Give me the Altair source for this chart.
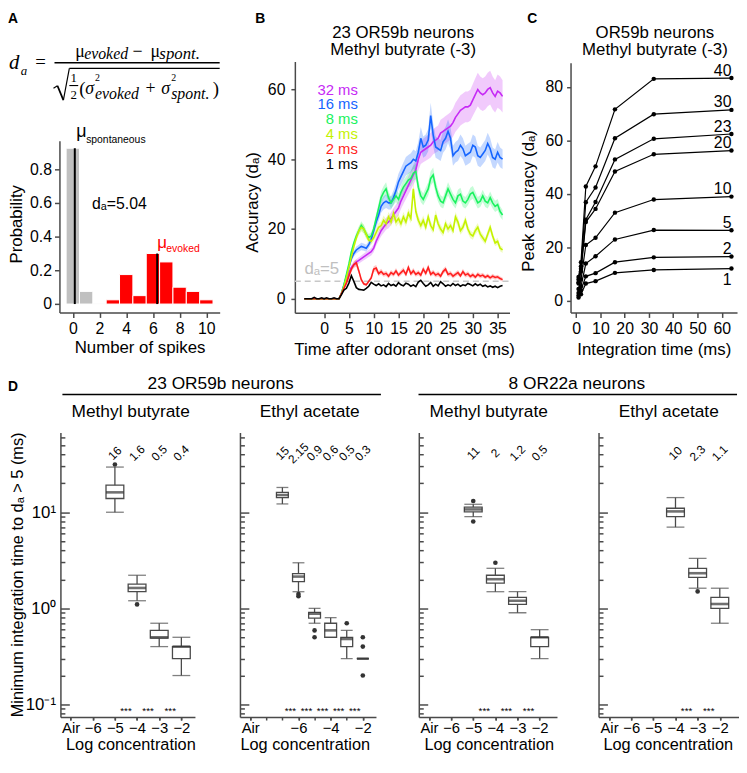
import altair as alt
import pandas as pd

W, H = 739, 750
SANS = "Liberation Sans"
SERIF = "Liberation Serif"
AXC = "#4a4a4a"
ONE = alt.Data(values=[{"k": 1}])

# ---------------- Panel A data ----------------
spont_spikes = [0, 1, 2]
spont_prob = [0.925, 0.075, 0.004]
evoked_spikes = [3, 4, 5, 6, 7, 8, 9, 10]
evoked_prob = [0.025, 0.175, 0.05, 0.30, 0.25, 0.10, 0.075, 0.025]
mean_spikes = [0.15, 6.32]
mean_tops = [0.925, 0.30]

# ---------------- Panel B data ----------------
times = [-4, -3.5, -3, -2.5, -2, -1.5, -1, -0.5, 0, 0.5,
         1, 1.5, 2, 2.5, 3, 3.5, 4, 4.5, 5, 5.5,
         6, 6.5, 7, 7.5, 8, 8.5, 9, 9.5, 10, 10.5,
         11, 11.5, 12, 12.5, 13, 13.5, 14, 14.5, 15, 15.5,
         16, 16.5, 17, 17.5, 18, 18.5, 19, 19.5, 20, 20.5,
         21, 21.5, 22, 22.5, 23, 23.5, 24, 24.5, 25, 25.5,
         26, 26.5, 27, 27.5, 28, 28.5, 29, 29.5, 30, 30.5,
         31, 31.5, 32, 32.5, 33, 33.5, 34, 34.5, 35, 35.5, 36]
acc_1ms = [0, 0, 0, 0, 0.4, 0, 0, 0.3, 0, 0.3,
           0, 0, 0.3, 0, 0, 1.2, 2.5, 3.0, 4.5, 6.6,
           5.0, 3.2, 2.7, 2.6, 2.5, 3.0, 3.6, 4.7, 4.2, 3.8,
           4.3, 3.7, 4.0, 3.5, 4.4, 3.8, 4.1, 3.6, 4.6, 4.0,
           3.7, 4.5, 4.2, 3.6, 4.0, 3.5, 4.8, 5.3, 4.4, 3.6,
           4.0, 4.7, 3.6, 4.2, 3.7, 4.9, 4.3, 3.6, 4.0, 3.7,
           4.4, 3.8, 4.2, 3.6, 4.0, 3.8, 4.4, 4.1, 3.7, 4.3,
           3.8, 4.2, 3.6, 3.9, 3.4, 3.7, 3.3, 3.6, 3.2, 3.6, 3.8]
acc_2ms = [0, 0, 0, 0, 0, 0, 0, 0, 0, 0,
           0, 0, 0, 0, 0, 1.5, 3.0, 4.5, 6.5, 8.5,
           9.8, 10.3, 8.0, 5.5, 4.3, 4.0, 5.0, 6.0, 8.5, 8.8,
           7.2, 7.8, 7.0, 7.3, 6.5, 7.5, 7.0, 8.0, 6.8, 7.5,
           8.2, 7.0, 9.0, 7.2, 8.0, 7.0, 7.5, 6.8, 8.5, 7.3,
           9.0, 7.0, 7.6, 6.8, 7.2, 6.5, 7.8, 8.5, 7.0, 7.3,
           6.5, 7.0, 7.5, 6.6, 7.8, 6.8, 7.2, 6.4, 6.9, 6.2,
           7.0, 6.5, 6.8, 6.2, 6.6, 6.0, 6.5, 6.1, 6.3, 5.8, 5.5]
acc_4ms = [0, 0, 0, 0, 0, 0, 0, 0, 0, 0,
           0, 0, 0, 0, 0, 1.5, 3.5, 6.0, 9.0, 12.0,
           15.0, 17.5, 19.5, 20.5, 20.0, 18.5, 16.8, 16.5, 17.5, 19.0,
           20.5, 21.0, 22.5, 21.5, 23.5, 22.0, 24.5, 22.0, 23.0, 21.5,
           23.5, 22.0, 24.5, 23.0, 31.5, 25.0, 22.5, 21.0, 22.5, 20.5,
           23.5, 21.0, 19.8, 24.0, 21.5, 20.0, 19.0, 21.5, 20.0, 21.0,
           19.5, 23.5, 22.0, 19.5, 20.5, 22.5, 20.0, 18.5, 18.0, 19.5,
           20.5, 18.5, 17.5, 16.5, 18.5, 20.5, 18.0, 16.0, 16.5, 14.5, 14.0]
acc_8ms = [0, 0, 0, 0, 0, 0, 0, 0, 0, 0,
           0, 0, 0, 0, 0, 1.5, 4.0, 7.0, 10.0, 13.5,
           16.0, 18.0, 19.5, 21.0, 20.0, 18.5, 17.5, 18.0, 20.0, 23.0,
           26.0, 29.0, 30.5, 31.5, 29.0, 27.5, 28.5, 29.5, 28.5, 30.5,
           32.0, 33.0, 34.0, 34.5, 36.0, 36.5, 32.0, 29.5, 28.5, 30.0,
           31.5, 34.5, 35.5, 32.0, 29.5, 28.0, 27.5, 29.5, 31.5, 30.0,
           28.5, 27.5, 29.5, 30.0, 28.0, 27.5, 28.5, 30.0, 30.5, 29.0,
           27.5, 28.0, 29.5, 28.0, 27.5, 29.0, 27.5, 26.5, 27.0, 25.0, 24.0]
acc_16ms = [0, 0, 0, 0, 0, 0, 0, 0, 0, 0,
            0, 0, 0, 0, 0, 1.5, 4.0, 6.5, 9.0, 11.5,
            13.0, 14.0, 14.5, 15.0, 14.8, 14.5, 15.5, 17.0, 19.5, 22.0,
            24.0, 26.5, 27.5, 28.0, 27.5, 27.5, 29.0, 31.0, 33.5, 35.0,
            36.5, 38.0, 38.5, 39.0, 40.0, 39.5, 42.0, 46.0, 43.5, 44.0,
            45.5, 52.5, 47.0, 43.5, 43.0, 42.5, 45.0, 46.0, 48.0, 46.0,
            41.0, 42.0, 42.5, 44.0, 43.0, 41.0, 41.5, 42.0, 44.0, 43.5,
            41.0, 40.5, 41.5, 42.5, 44.5, 43.0, 40.5, 40.0, 42.0, 40.5, 40.0]
acc_32ms = [0, 0, 0, 0, 0, 0, 0, 0, 0, 0,
            0, 0, 0, 0, 0, 1.5, 3.5, 5.5, 7.5, 9.0,
            9.8, 10.5, 11.0, 11.5, 12.0, 12.5, 13.0, 13.5, 14.5, 16.5,
            18.0, 19.5, 20.5, 21.5, 22.0, 23.0, 24.0, 25.0, 26.0, 28.0,
            29.5, 31.0, 32.5, 34.0, 35.5, 37.0, 40.0, 42.0, 42.5, 43.0,
            43.5, 44.0, 45.0, 45.5, 46.0, 47.5, 48.0, 48.5, 49.0, 49.5,
            50.5, 52.0, 53.0, 54.0, 54.5, 55.0, 55.0, 55.5, 57.0, 58.5,
            60.0, 59.0, 58.5, 59.0, 60.0, 60.5, 59.0, 58.0, 59.5, 59.0, 58.0]
series_names = ["32 ms", "16 ms", "8 ms", "4 ms", "2 ms", "1 ms"]
series_values = [acc_32ms, acc_16ms, acc_8ms, acc_4ms, acc_2ms, acc_1ms]
series_colors = ["#c62af5", "#1565ff", "#19f25e", "#c5f200", "#ff1f1f", "#000000"]
sem_frac = [0.08, 0.07, 0.06, 0.06, 0.10, 0.0]

# ---------------- Panel C data ----------------
int_times = [1, 2, 4, 8, 16, 32, 64]
neuron_counts = [40, 30, 23, 20, 10, 5, 2, 1]
peak_40 = [9.0, 14.5, 42.8, 50.3, 71.6, 83.0, 83.3]
peak_30 = [8.0, 13.0, 36.9, 42.4, 60.8, 69.8, 71.4]
peak_23 = [7.0, 12.0, 30.4, 37.0, 52.9, 60.6, 62.4]
peak_20 = [6.5, 11.0, 29.5, 34.4, 48.4, 54.8, 56.2]
peak_10 = [4.5, 8.0, 20.9, 23.6, 33.0, 37.9, 39.0]
peak_5 = [3.0, 5.5, 14.0, 16.7, 23.0, 26.5, 26.4]
peak_2 = [2.0, 4.0, 9.2, 10.4, 14.5, 16.3, 16.6]
peak_1 = [1.3, 2.5, 6.5, 7.4, 10.5, 11.6, 12.1]
peak_values = [peak_40, peak_30, peak_23, peak_20, peak_10, peak_5, peak_2, peak_1]

# ---------------- Panel D data ----------------
d1_conc = [-5, -4, -3, -2]
d1_lo = [10.0, 1.2, 0.4, 0.2]
d1_q1 = [13.9, 1.49, 0.49, 0.3]
d1_med = [16.1, 1.63, 0.5, 0.4]
d1_q3 = [19.1, 1.79, 0.59, 0.4]
d1_hi = [29.5, 2.21, 0.70, 0.5]
d1_out_x = [-5, -4]
d1_out_y = [31.4, 1.1]
d1_labels = ["16", "1.6", "0.5", "0.4"]
d1_stars = [-4.5, -3.5, -2.5]

d2_conc = [-7, -6, -5, -4, -3, -2]
d2_lo = [12.2, 1.49, 0.70, 0.5, 0.3, 0.3]
d2_q1 = [14.2, 1.90, 0.79, 0.5, 0.4, 0.3]
d2_med = [15.1, 2.14, 0.88, 0.59, 0.48, 0.3]
d2_q3 = [16.1, 2.30, 0.91, 0.70, 0.5, 0.3]
d2_hi = [18.1, 2.98, 1.0, 0.8, 0.59, 0.3]
d2_out_x = [-6, -6, -5, -5, -3, -2, -2, -2]
d2_out_y = [1.41, 1.34, 0.59, 0.5, 0.7, 0.5, 0.4, 0.2]
d2_labels = ["15", "2.15", "0.9", "0.6", "0.5", "0.3"]
d2_stars = [-6.5, -5.5, -4.5, -3.5, -2.5]

d3_conc = [-5, -4, -3, -2]
d3_lo = [9.0, 1.49, 0.9, 0.3]
d3_q1 = [10.1, 1.83, 1.1, 0.4]
d3_med = [10.7, 2.01, 1.2, 0.5]
d3_q3 = [11.3, 2.21, 1.3, 0.5]
d3_hi = [12.1, 2.61, 1.49, 0.6]
d3_out_x = [-5, -5, -4]
d3_out_y = [13.1, 8.0, 2.98]
d3_labels = ["11", "2", "1.2", "0.5"]
d3_stars = [-4.5, -3.5, -2.5]

d4_conc = [-4, -3, -2]
d4_lo = [7.0, 1.62, 0.70]
d4_q1 = [9.0, 2.10, 1.0]
d4_med = [10.2, 2.32, 1.11]
d4_q3 = [11.0, 2.61, 1.30]
d4_hi = [14.2, 3.31, 1.62]
d4_out_x = [-3]
d4_out_y = [1.50]
d4_labels = ["10", "2.3", "1.1"]
d4_stars = [-3.5, -2.5]

log_ticks = [0.08, 0.09, 0.1, 0.2, 0.3, 0.4, 0.5, 0.6, 0.7, 0.8, 0.9,
             1, 2, 3, 4, 5, 6, 7, 8, 9, 10, 20, 30, 40, 50, 60]


# ---------------- helpers ----------------
def txt(s, x, y, size=16, color="black", font=SANS, style="normal",
        weight="normal", align="left", baseline="alphabetic"):
    return alt.Chart(ONE).mark_text(
        text=s, fontSize=size, color=color, font=font, fontStyle=style,
        fontWeight=weight, align=align, baseline=baseline
    ).encode(x=alt.value(x), y=alt.value(y))


def seg(x1, y1, x2, y2, color="black", width=1.5):
    return alt.Chart(ONE).mark_rule(color=color, strokeWidth=width).encode(
        x=alt.value(x1), y=alt.value(y1), x2=alt.value(x2), y2=alt.value(y2))


def ax(**kw):
    base = dict(grid=False, domainColor=AXC, domainWidth=1.5, tickColor=AXC,
                tickWidth=1.5, labelFont=SANS, labelFontSize=16, labelColor="black",
                labelFlush=False, labelOverlap=False, titleFont=SANS,
                titleFontSize=17, titleFontWeight="normal", titleColor="black")
    base.update(kw)
    return alt.Axis(**base)


def left_title(text, x_abs, axis_x, y_center, size=17):
    return dict(title=text, titleAngle=270, titleAlign="center",
                titleBaseline="alphabetic", titleX=x_abs - axis_x,
                titleY=y_center, titleFontSize=size)


def bottom_title(text, x_center, dy, size=17):
    return dict(title=text, titleAlign="center", titleBaseline="alphabetic",
                titleX=x_center, titleY=dy, titleFontSize=size)


def panel(*charts):
    return alt.layer(*charts).resolve_axis(x="independent", y="independent")


layers = []

# ---------------- Panel A ----------------
xA = alt.Scale(domain=[-1, 11], range=[52, 214], nice=False, zero=False)
yA = alt.Scale(domain=[-0.05, 0.97], range=[303.7, 130], nice=False, zero=False)
axA_x = ax(orient="bottom", offset=303.7 - H, values=[0, 2, 4, 6, 8, 10],
           tickSize=5, labelPadding=3, **bottom_title("Number of spikes", 133, 40))
axA_y = ax(orient="left", offset=-52, values=[0, 0.2, 0.4, 0.6, 0.8], tickSize=5,
           labelPadding=3,
           labelExpr="datum.value == 0 ? '0' : format(datum.value, '.1f')",
           **left_title("Probability", 14, 52, 214))


def hist(df, color, axes):
    return alt.Chart(df).transform_calculate(
        l="datum.spikes - 0.5", r="datum.spikes + 0.5"
    ).mark_bar(fill=color, stroke="white", strokeWidth=1).encode(
        x=alt.X("l:Q", scale=xA, axis=axA_x if axes else None),
        x2="r:Q",
        y=alt.Y("p:Q", scale=yA, axis=axA_y if axes else None),
        y2=alt.datum(0),
    )


dfS = pd.DataFrame({"spikes": spont_spikes, "p": spont_prob})
dfE = pd.DataFrame({"spikes": evoked_spikes, "p": evoked_prob})
dfM = pd.DataFrame({"m": mean_spikes, "top": mean_tops})
means = alt.Chart(dfM).mark_rule(color="black", strokeWidth=2).encode(
    x=alt.X("m:Q", scale=xA, axis=None),
    y=alt.Y("top:Q", scale=yA, axis=None),
    y2=alt.datum(0),
)
layers.append(panel(hist(dfS, "#c0c0c0", True), hist(dfE, "#ff0000", False), means))

# formula
layers += [
    txt("A", 0, 11, 14, weight="bold"),
    txt("d", 1, 58, 21, font=SERIF, style="italic"),
    txt("a", 13, 64, 13, font=SERIF, style="italic"),
    txt("=", 33, 57, 19, font=SERIF, align="center"),
    txt("μ", 68, 45, 18, font=SERIF),
    txt("evoked", 77, 47, 16, font=SERIF, style="italic"),
    txt("−", 131, 45, 18, font=SERIF, align="center"),
    txt("μ", 144, 45, 18, font=SERIF),
    txt("spont.", 153, 47, 17, font=SERIF, style="italic"),
    seg(47, 51.3, 214, 51.3, width=1.5),
    seg(46, 77, 50, 74.5, width=1.2),
    seg(50, 74.5, 56, 89, width=1.8),
    seg(56, 89, 62, 57, width=1.2),
    seg(62, 57, 214, 57, width=1.2),
    txt("1", 66.5, 71, 13, font=SERIF, align="center"),
    seg(62, 74.3, 71, 74.3, width=1.1),
    txt("2", 66.5, 87.5, 13, font=SERIF, align="center"),
    txt("(", 72, 84, 19, font=SERIF),
    txt("σ", 78, 83, 18, font=SERIF, style="italic"),
    txt("2", 88, 70, 10, font=SERIF),
    txt("evoked", 88, 88, 16, font=SERIF, style="italic"),
    txt("+", 144, 83, 18, font=SERIF, align="center"),
    txt("σ", 155, 83, 18, font=SERIF, style="italic"),
    txt("2", 165, 70, 10, font=SERIF),
    txt("spont.", 165, 88, 16, font=SERIF, style="italic"),
    txt(")", 207, 84, 19, font=SERIF),
    # histogram annotations
    txt("μ", 69, 126, 18),
    txt("spontaneous", 79, 132, 10.5),
    txt("dₐ=5.04", 85, 199, 16),
    txt("μ", 151, 239, 17, color="#ff0000"),
    txt("evoked", 160, 243, 10.5, color="#ff0000"),
]

# ---------------- Panel B ----------------
rows = []
for name, vals, frac in zip(series_names, series_values, sem_frac):
    for t, v in zip(times, vals):
        rows.append({"t": t, "v": v, "s": name, "lo": v * (1 - frac), "hi": v * (1 + frac)})
dfB = pd.DataFrame(rows)
xB = alt.Scale(domain=[-5.9, 37.4], range=[290, 507], nice=False, zero=False)
yB = alt.Scale(domain=[-4, 68], range=[304, 50], nice=False, zero=False)
colB = alt.Scale(domain=series_names, range=series_colors)
axB_x = ax(orient="bottom", offset=304 - H, values=[0, 5, 10, 15, 20, 25, 30, 35],
           tickSize=5, labelPadding=3,
           **bottom_title("Time after odorant onset (ms)", 400.5, 42))
axB_y = ax(orient="left", offset=-290, values=[0, 20, 40, 60], tickSize=4,
           labelPadding=6, **left_title("Accuracy (dₐ)", 252, 290, 192))

bands = alt.Chart(dfB).mark_area(opacity=0.25).encode(
    x=alt.X("t:Q", scale=xB, axis=None),
    y=alt.Y("lo:Q", scale=yB, axis=None),
    y2="hi:Q",
    color=alt.Color("s:N", scale=colB, legend=None),
)
linesB = alt.Chart(dfB).mark_line(strokeWidth=1.6).encode(
    x=alt.X("t:Q", scale=xB, axis=axB_x),
    y=alt.Y("v:Q", scale=yB, axis=axB_y),
    color=alt.Color("s:N", scale=colB, legend=None),
)
dashB = alt.Chart(ONE).mark_rule(color="#c8c8c8", strokeDash=[6, 4], strokeWidth=1.5).encode(
    x=alt.value(290), x2=alt.value(507),
    y=alt.Y(datum=5, scale=yB, axis=None),
)
layers.append(panel(dashB, bands, linesB))

legend_y = [83.5, 98.5, 113.5, 128.5, 143.5, 158.5]
for name, color, yy in zip(series_names, series_colors, legend_y):
    layers.append(txt(name, 353.7, yy, 15, color=color, align="right"))
layers += [
    txt("B", 250, 11, 14, weight="bold"),
    txt("23 OR59b neurons", 399.5, 26, 17, align="center"),
    txt("Methyl butyrate (-3)", 399.5, 43.5, 17, align="center"),
    txt("dₐ=5", 299.7, 265.3, 17, color="#c0c0c0"),
]

# ---------------- Panel C ----------------
rowsC = []
for n, vals in zip(neuron_counts, peak_values):
    for xx, v in zip(int_times, vals):
        rowsC.append({"n": n, "x": xx, "v": v})
dfC = pd.DataFrame(rowsC)
xC = alt.Scale(domain=[-2.3, 66.3], range=[568.7, 737], nice=False, zero=False)
yC = alt.Scale(domain=[-4.3, 89], range=[303.7, 51.3], nice=False, zero=False)
axC_x = ax(orient="bottom", offset=303.7 - H, values=[0, 10, 20, 30, 40, 50, 60],
           tickSize=5, labelPadding=3, **bottom_title("Integration time (ms)", 652.8, 42.3))
axC_y = ax(orient="left", offset=-568.7, values=[0, 20, 40, 60, 80], tickSize=4,
           labelPadding=4, **left_title("Peak accuracy (dₐ)", 531, 568.7, 190.5))
linesC = alt.Chart(dfC).mark_line(color="black", strokeWidth=1.2).encode(
    x=alt.X("x:Q", scale=xC, axis=axC_x),
    y=alt.Y("v:Q", scale=yC, axis=axC_y),
    detail="n:N",
)
ptsC = alt.Chart(dfC).mark_circle(size=20, color="black", opacity=1).encode(
    x=alt.X("x:Q", scale=xC, axis=None),
    y=alt.Y("v:Q", scale=yC, axis=None),
)
labC = alt.Chart(dfC).transform_filter("datum.x == 64 && datum.n != 1").mark_text(
    align="right", baseline="alphabetic", dy=-2.5, fontSize=16, font=SANS, color="black"
).encode(x=alt.X("x:Q", scale=xC, axis=None), y=alt.Y("v:Q", scale=yC, axis=None), text="n:N")
labC1 = alt.Chart(dfC).transform_filter("datum.x == 64 && datum.n == 1").mark_text(
    align="right", baseline="top", dy=4, fontSize=16, font=SANS, color="black"
).encode(x=alt.X("x:Q", scale=xC, axis=None), y=alt.Y("v:Q", scale=yC, axis=None), text="n:N")
layers.append(panel(linesC, ptsC, labC, labC1))
layers += [
    txt("C", 525, 11, 14, weight="bold"),
    txt("OR59b neurons", 654, 26, 17, align="center"),
    txt("Methyl butyrate (-3)", 654, 43.5, 17, align="center"),
]

# ---------------- Panel D ----------------
D_BOT, D_TOP = 712.7, 425
ylog = alt.Scale(type="log", domain=[0.074, 67.6], range=[D_BOT, D_TOP], nice=False)
major_test = "datum.value == 0.1 || datum.value == 1 || datum.value == 10"
lab_expr = "datum.value <= -7 ? 'Air' : '−' + abs(datum.value)"


def panel_d(conc, lo, q1, med, q3, hi, ox, oy, labels, stars, xr, xdom, boxw,
            label_ticks, all_ticks, title_x, with_labels):
    xs = alt.Scale(domain=xdom, range=xr, nice=False, zero=False)
    xax = ax(orient="bottom", offset=D_BOT - H, values=label_ticks, tickSize=3,
             labelPadding=1, labelExpr=lab_expr, labelFontSize=15,
             **bottom_title("Log concentration", title_x, 33, 16.5))
    xtick_ax = ax(orient="bottom", offset=D_BOT - H, values=all_ticks, tickSize=3,
                  labels=False, domain=False, title="")
    ytick_ax = ax(orient="right", offset=xr[0] - W, values=log_ticks, labels=False,
                  title="", tickSize={"condition": {"test": major_test, "value": 9}, "value": 4.5})
    box = pd.DataFrame({"c": conc, "lo": lo, "q1": q1, "med": med, "q3": q3, "hi": hi})
    outl = pd.DataFrame({"ox": ox, "oy": oy})
    labs = pd.DataFrame({"c": conc, "lab": labels})
    st = pd.DataFrame({"sx": stars})
    whisk = alt.Chart(box).mark_rule(color=AXC, strokeWidth=1.3).encode(
        x=alt.X("c:Q", scale=xs, axis=xax),
        y=alt.Y("lo:Q", scale=ylog, axis=ytick_ax), y2="hi:Q")
    rect = alt.Chart(box).mark_bar(size=boxw, fill="white", stroke=AXC, strokeWidth=1.3).encode(
        x=alt.X("c:Q", scale=xs, axis=None),
        y=alt.Y("q1:Q", scale=ylog, axis=None), y2="q3:Q")
    cap_lo = alt.Chart(box).mark_tick(orient="horizontal", size=boxw, thickness=1.3, color=AXC).encode(
        x=alt.X("c:Q", scale=xs, axis=xtick_ax), y=alt.Y("lo:Q", scale=ylog, axis=None))
    cap_hi = alt.Chart(box).mark_tick(orient="horizontal", size=boxw, thickness=1.3, color=AXC).encode(
        x=alt.X("c:Q", scale=xs, axis=None), y=alt.Y("hi:Q", scale=ylog, axis=None))
    if with_labels:
        ylab_ax = ax(orient="left", offset=-xr[0], values=[0.1, 1, 10], domain=False,
                     ticks=False, tickSize=0, labelPadding=5, labelFontSize=17,
                     labelExpr="datum.value == 10 ? '10¹' : (datum.value == 1 ? '10⁰' : '10⁻¹')",
                     **left_title("Minimum integration time to dₐ > 5 (ms)", 15, xr[0], 568.5, 16.5))
    else:
        ylab_ax = None
    medl = alt.Chart(box).mark_tick(orient="horizontal", size=boxw, thickness=2.6, color="#333333").encode(
        x=alt.X("c:Q", scale=xs, axis=None), y=alt.Y("med:Q", scale=ylog, axis=ylab_ax))
    outp = alt.Chart(outl).mark_circle(size=22, color="#333333", opacity=1).encode(
        x=alt.X("ox:Q", scale=xs, axis=None), y=alt.Y("oy:Q", scale=ylog, axis=None))
    labt = alt.Chart(labs).mark_text(angle=315, fontSize=12, font=SANS, align="center",
                                      baseline="middle", color="black").encode(
        x=alt.X("c:Q", scale=xs, axis=None), y=alt.value(446), text="lab:N")
    stt = alt.Chart(st).mark_text(text="***", fontSize=10, font=SANS, align="center",
                                   baseline="middle", color="black").encode(
        x=alt.X("sx:Q", scale=xs, axis=None), y=alt.value(707))
    return panel(whisk, rect, cap_lo, cap_hi, medl, outp, labt, stt)


std_ticks = [-7, -6, -5, -4, -3, -2]
ea_label_ticks = [-9, -6, -4, -2]
ea_ticks = [-9, -8, -7, -6, -5, -4, -3, -2]

layers.append(panel_d(d1_conc, d1_lo, d1_q1, d1_med, d1_q3, d1_hi, d1_out_x, d1_out_y,
                      d1_labels, d1_stars, [53, 189], [-7.236, -1.61], 18,
                      std_ticks, std_ticks, 123.7, True))
layers.append(panel_d(d2_conc, d2_lo, d2_q1, d2_med, d2_q3, d2_hi, d2_out_x, d2_out_y,
                      d2_labels, d2_stars, [234.5, 372], [-9.33, -1.49], 12,
                      ea_label_ticks, ea_ticks, 300, False))
layers.append(panel_d(d3_conc, d3_lo, d3_q1, d3_med, d3_q3, d3_hi, d3_out_x, d3_out_y,
                      d3_labels, d3_stars, [415.3, 555], [-7.236, -1.44], 18,
                      std_ticks, std_ticks, 486, False))
layers.append(panel_d(d4_conc, d4_lo, d4_q1, d4_med, d4_q3, d4_hi, d4_out_x, d4_out_y,
                      d4_labels, d4_stars, [597, 738.7], [-7.25, -1.37], 18,
                      std_ticks, std_ticks, 667, False))

layers += [
    txt("D", 0, 383, 14, weight="bold"),
    txt("23 OR59b neurons", 215, 381, 17.5, align="center"),
    seg(55, 386.7, 377, 386.7, width=1.5),
    txt("8 OR22a neurons", 575, 381, 17.5, align="center"),
    seg(415, 386.7, 737, 386.7, width=1.5),
    txt("Methyl butyrate", 124, 409.5, 17.5, align="center"),
    txt("Ethyl acetate", 305, 409.5, 17.5, align="center"),
    txt("Methyl butyrate", 486, 409.5, 17.5, align="center"),
    txt("Ethyl acetate", 668, 409.5, 17.5, align="center"),
]

chart = alt.layer(*layers).resolve_scale(
    x="independent", y="independent", color="independent"
).properties(
    width=W, height=H, padding=0, autosize=alt.AutoSizeParams(type="none")
).configure(font=SANS).configure_view(stroke=None)

chart.save("out.html", embed_options={"renderer": "svg", "actions": False})
